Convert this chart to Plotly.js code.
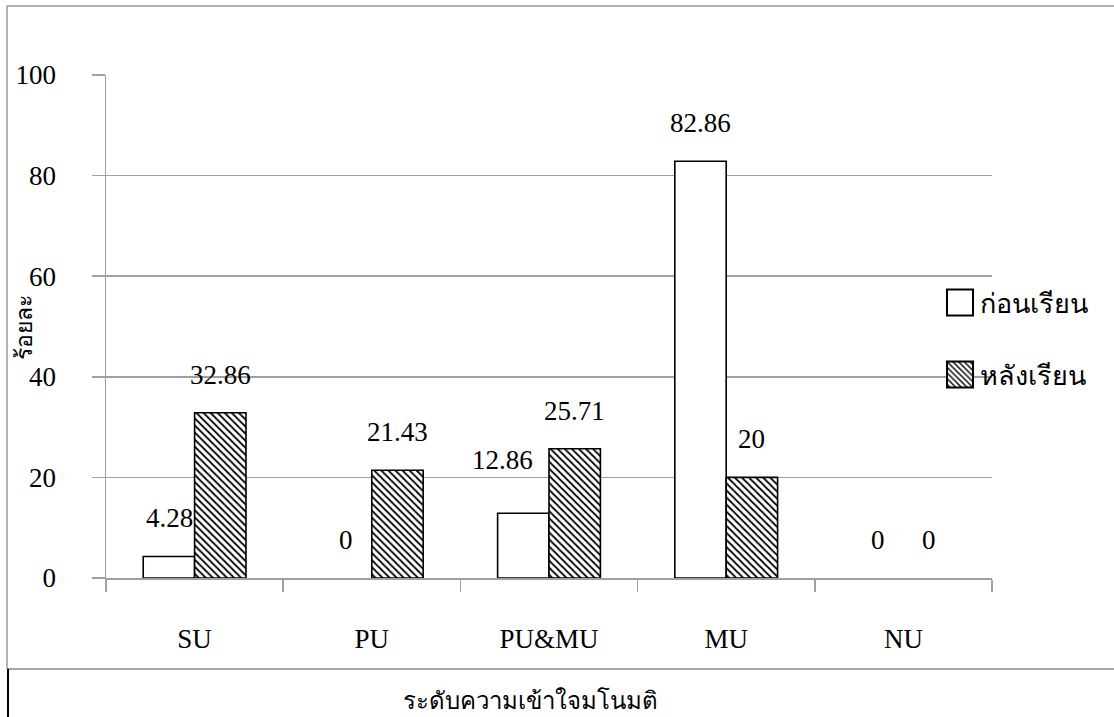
<!DOCTYPE html>
<html>
<head>
<meta charset="utf-8">
<script src="https://cdn.plot.ly/plotly-3.0.1.min.js"></script>
<style>
  html, body { margin: 0; padding: 0; background: #fff; }
  #chart { width: 1114px; height: 717px; }
</style>
</head>
<body>
<div id="chart"></div>
<script>
// Levels of conceptual understanding
const categories = ['SU', 'PU', 'PU&MU', 'MU', 'NU'];
// Percentage of students at each level
const beforeValues = [4.28, 0, 12.86, 82.86, 0];
const afterValues = [32.86, 21.43, 25.71, 20, 0];
const seriesNames = ['ก่อนเรียน', 'หลังเรียน'];
const yTicks = [0, 20, 40, 60, 80, 100];
const xTitle = 'ระดับความเข้าใจมโนมติ';
const yTitle = 'ร้อยละ';

const FONT = 'Liberation Serif, Times New Roman, serif';
const GRID = '#a0a0a0';

// Plot area in pixels
const L = 106, R = 992, T = 75, B = 578, W = 1114, H = 717;
const pw = R - L, ph = B - T;
const px = v => (v - L) / pw;
const py = v => (B - v) / ph;

// a zero-height bar has no visible outline
const outline = vals => vals.map(v => (v === 0 ? 0 : 1.6));

const traces = [
  {
    type: 'bar', name: seriesNames[0], x: categories, y: beforeValues,
    marker: { color: '#ffffff', line: { color: '#000000', width: outline(beforeValues) } },
    legend: 'legend', hoverinfo: 'x+y'
  },
  {
    type: 'bar', name: seriesNames[1], x: categories, y: afterValues,
    marker: {
      color: '#ffffff',
      line: { color: '#000000', width: outline(afterValues) },
      pattern: { shape: '\\', fgcolor: '#000000', bgcolor: '#ffffff', size: 5, solidity: 0.35 }
    },
    legend: 'legend2', hoverinfo: 'x+y'
  }
];

// Value labels above each bar
const halfBar = 25.6;
const labelNudge = { 'PU&MU|0': [-21, 15] };
const annotations = [];
[beforeValues, afterValues].forEach((vals, s) => {
  vals.forEach((v, i) => {
    const n = labelNudge[categories[i] + '|' + s] || [0, 0];
    annotations.push({
      x: categories[i], y: v, xref: 'x', yref: 'y',
      text: String(v), showarrow: false,
      xshift: (s === 0 ? -halfBar : halfBar) + n[0], yshift: 38 + n[1],
      xanchor: 'center', yanchor: 'middle',
      font: { family: FONT, size: 27, color: '#000' }
    });
  });
});
annotations.push({
  x: px(530), y: py(700), xref: 'paper', yref: 'paper',
  text: xTitle, showarrow: false, xanchor: 'center', yanchor: 'middle',
  font: { family: FONT, size: 24, color: '#000' }
});
annotations.push({
  x: px(24), y: py(328), xref: 'paper', yref: 'paper',
  text: yTitle, showarrow: false, textangle: -90, xanchor: 'center', yanchor: 'middle',
  font: { family: FONT, size: 23, color: '#000' }
});

// Outer frame lines
const shapes = [
  { type: 'line', xref: 'paper', yref: 'paper', x0: px(7), x1: px(W), y0: py(6), y1: py(6), line: { color: '#999', width: 1.5 } },
  { type: 'line', xref: 'paper', yref: 'paper', x0: px(7), x1: px(7), y0: py(6), y1: py(669), line: { color: '#999', width: 1.5 } },
  { type: 'line', xref: 'paper', yref: 'paper', x0: px(7), x1: px(W), y0: py(669), y1: py(669), line: { color: '#888', width: 1.5 } },
  { type: 'line', xref: 'paper', yref: 'paper', x0: px(8), x1: px(8), y0: py(669), y1: py(H), line: { color: '#000', width: 2 } }
];

const legendBase = {
  font: { family: FONT, size: 27, color: '#000' },
  bgcolor: 'rgba(0,0,0,0)', borderwidth: 0,
  xanchor: 'left', yanchor: 'middle', x: px(940)
};

const layout = {
  width: W, height: H,
  margin: { l: L, r: W - R, t: T, b: H - B, pad: 0 },
  paper_bgcolor: '#ffffff', plot_bgcolor: '#ffffff',
  barmode: 'group', bargap: 0.42, bargroupgap: 0,
  font: { family: FONT, size: 27, color: '#000' },
  xaxis: {
    type: 'category', showgrid: false, showline: true, linecolor: GRID, linewidth: 1.5,
    ticks: 'outside', tickson: 'boundaries', ticklen: 12, tickcolor: GRID, tickwidth: 1.5,
    ticklabelstandoff: 36,
    tickfont: { family: FONT, size: 27, color: '#000' }, fixedrange: true
  },
  yaxis: {
    range: [0, 100], tickvals: yTicks, ticktext: yTicks.map(String),
    showgrid: true, gridcolor: GRID, gridwidth: 1.5, zeroline: false,
    showline: true, linecolor: GRID, linewidth: 1.5,
    ticks: 'outside', ticklen: 13, tickcolor: GRID, tickwidth: 1.5,
    ticklabelstandoff: 30,
    tickfont: { family: FONT, size: 27, color: '#000' }, fixedrange: true
  },
  showlegend: true,
  legend: Object.assign({}, legendBase, { y: py(303) }),
  legend2: Object.assign({}, legendBase, { y: py(375) }),
  annotations: annotations,
  shapes: shapes
};

Plotly.newPlot('chart', traces, layout, { displayModeBar: false, staticPlot: true }).then(gd => {
  // enlarge the legend swatches
  gd.querySelectorAll('.legendpoints path').forEach(p => {
    p.setAttribute('d', 'M13,13H-13V-13H13Z');
    p.style.strokeWidth = '2px';
    p.style.stroke = '#000';
  });
});
</script>
</body>
</html>
